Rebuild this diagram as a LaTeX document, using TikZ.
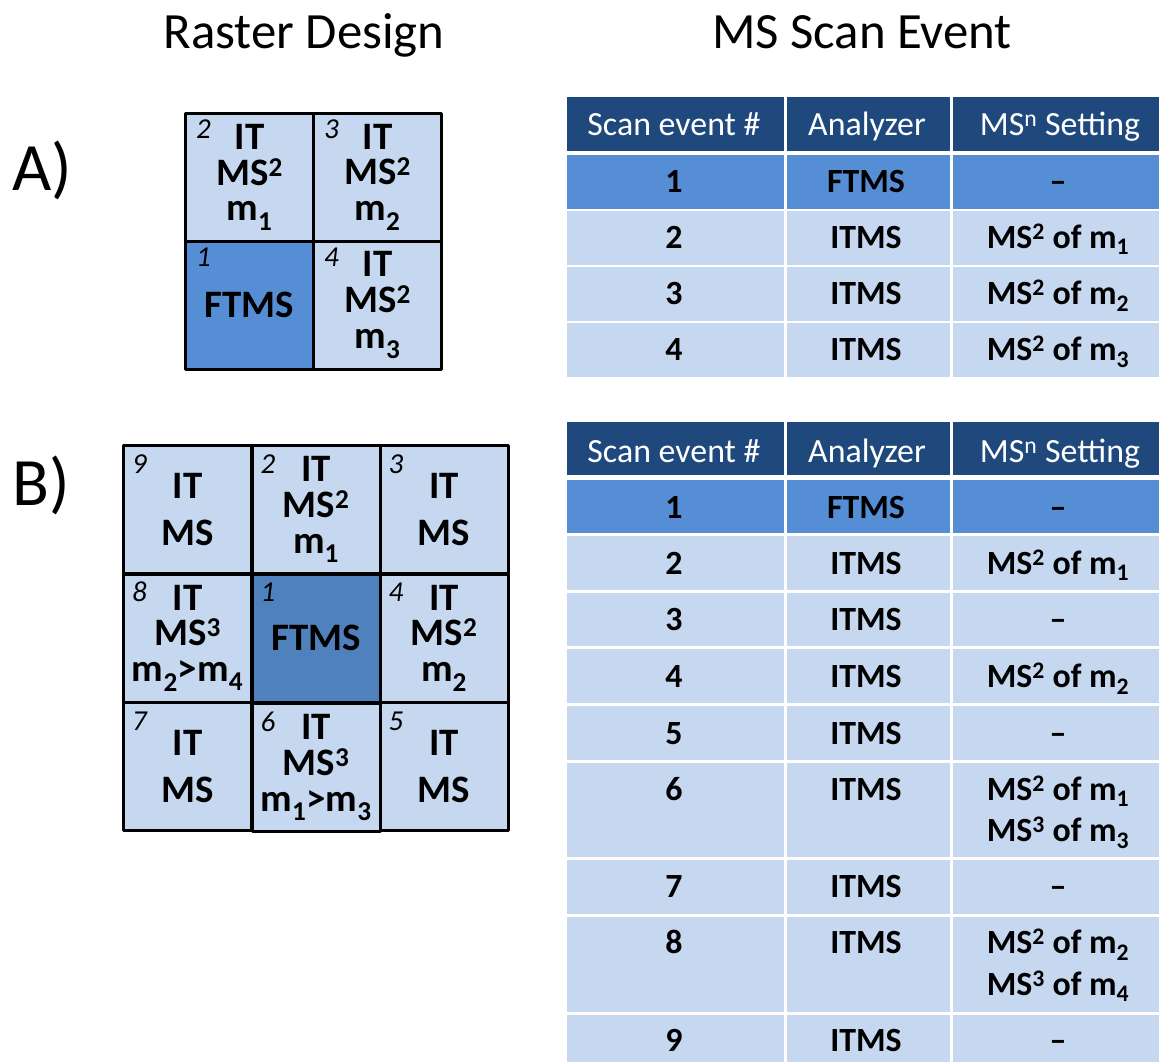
\documentclass[tikz,border=0pt]{standalone}
\usepackage{fontspec}
\setmainfont{Carlito}
\definecolor{lite}{HTML}{C6D8F0}
\definecolor{mid}{HTML}{558ED5}
\definecolor{deep}{HTML}{4F81BD}
\definecolor{head}{HTML}{1F497D}
\newcommand{\pw}[1]{\textsuperscript{#1}}
\newcommand{\ix}[1]{\textsubscript{#1}}
\begin{document}
\begin{tikzpicture}[x=1bp,y=-1bp,line join=round,
  cell/.style={draw,line width=3bp,fill=lite,minimum size=128bp,inner sep=0pt,align=center,font=\bfseries\fontsize{39}{36}\selectfont},
  num/.style={anchor=base west,inner sep=0pt,font=\itshape\fontsize{29}{29}\selectfont},
  tit/.style={anchor=base,inner sep=0pt,font=\fontsize{51}{51}\selectfont},
  lab/.style={anchor=base west,inner sep=0pt,font=\fontsize{68}{68}\selectfont},
  hd/.style={anchor=base,inner sep=0pt,text=white,font=\fontsize{34}{34}\selectfont},
  td/.style={anchor=base,inner sep=0pt,font=\bfseries\fontsize{34}{34}\selectfont}]
\useasboundingbox (0,0) rectangle (1159,1062);
\node[tit] (rd) at (304,48) {Raster Design};
\node[tit] (se) at (862,48) {MS Scan Event};
\node[lab] (la) at (12,190) {A)};
\node[lab] (lb) at (12,505) {B)};
% raster A
\foreach \n/\x/\y/\t in {2/249.5/177/{IT\\MS\pw{2}\\m\ix{1}},3/377.5/177/{IT\\MS\pw{2}\\m\ix{2}},4/377.5/305/{IT\\MS\pw{2}\\m\ix{3}}}
  \node[cell] (a\n) at (\x,\y) {\t};
\node[cell,fill=mid] (a1) at (249.5,305) {FTMS};
\foreach \n in {1,...,4}
  \node[num] (na\n) at ([shift={(12,27)}]a\n.north west) {\n};
% raster B
\foreach \n/\x/\y/\t in {9/187.5/509.5/{IT\\[11bp]MS},2/316/509.5/{IT\\MS\pw{2}\\m\ix{1}},3/444/509.5/{IT\\[11bp]MS},
  8/187.5/638/{IT\\MS\pw{3}\\m\ix{2}>m\ix{4}},4/444/638/{IT\\MS\pw{2}\\m\ix{2}},
  7/187.5/766.5/{IT\\[11bp]MS},6/316/767.5/{IT\\MS\pw{3}\\m\ix{1}>m\ix{3}},5/444/766.5/{IT\\[11bp]MS}}
  \node[cell] (b\n) at (\x,\y) {\t};
\node[cell,fill=deep] (b1) at (316,638) {FTMS};
\foreach \n in {1,...,9}
  \node[num] (nb\n) at ([shift={(10,29)}]b\n.north west) {\n};
% tables
\foreach \l/\r in {567/784,787/950,953/1159}{
  \fill[head] (\l,97) rectangle (\r,151);
  \foreach \ya/\yb/\c in {155/209/mid,211/265/lite,267/321/lite,323/377/lite}
    \fill[\c] (\l,\ya) rectangle (\r,\yb);
  \fill[head] (\l,422) rectangle (\r,475);
  \foreach \ya/\yb/\c in {480/533/mid,536/590/lite,593/646/lite,649/703/lite,706/760/lite,763/857/lite,860/914/lite,917/1012/lite,1015/1062/lite}
    \fill[\c] (\l,\ya) rectangle (\r,\yb);
}
\foreach \k/\y in {a/135,b/462}{
  \node[hd] (h\k1) at (674,\y) {Scan event \#};
  \node[hd] (h\k2) at (867,\y) {Analyzer};
  \node[hd] (h\k3) at (1060,\y) {MS\pw{n} Setting};
}
\foreach \y/\ev/\an/\st in {192/1/FTMS/--,248/2/ITMS/{MS\pw{2} of m\ix{1}},304/3/ITMS/{MS\pw{2} of m\ix{2}},360/4/ITMS/{MS\pw{2} of m\ix{3}}}{
  \node[td] (ta\ev) at (674,\y) {\ev};
  \node[td] (ua\ev) at (866,\y) {\an};
  \node[td] (va\ev) at (1058,\y) {\st};
}
\foreach \y/\ev/\an/\st in {518/1/FTMS/--,574/2/ITMS/{MS\pw{2} of m\ix{1}},630/3/ITMS/--,687/4/ITMS/{MS\pw{2} of m\ix{2}},744/5/ITMS/--,
  800/6/ITMS/{MS\pw{2} of m\ix{1}},897/7/ITMS/--,953/8/ITMS/{MS\pw{2} of m\ix{2}},1051/9/ITMS/--}{
  \node[td] (tb\ev) at (674,\y) {\ev};
  \node[td] (ub\ev) at (866,\y) {\an};
  \node[td] (vb\ev) at (1058,\y) {\st};
}
\node[td] (vb6x) at (1058,841) {MS\pw{3} of m\ix{3}};
\node[td] (vb8x) at (1058,995) {MS\pw{3} of m\ix{4}};
\end{tikzpicture}
\end{document}
